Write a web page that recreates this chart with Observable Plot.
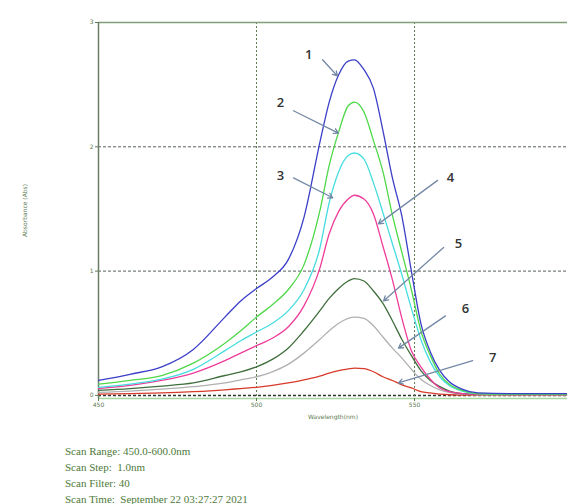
<!DOCTYPE html>
<html><head><meta charset="utf-8">
<script src="https://cdn.jsdelivr.net/npm/d3@7"></script>
<script src="https://cdn.jsdelivr.net/npm/@observablehq/plot@0.6"></script>
<style>
body{margin:0;background:#fff;width:567px;height:504px;overflow:hidden;position:relative;}
#info{position:absolute;left:65px;top:443px;font-family:"Liberation Serif","Times New Roman",serif;font-size:11px;line-height:16px;color:#4d7a3a;white-space:pre;}
</style></head><body>
<div id="chart"></div>
<div id="info"></div>
<script>
const wavelength = [450,460,470,480,490,495,500,505,510,515,520,523,526,529,531,534,537,540,543,546,549,552,555,558,561,565,570,580,600];
const s1 = [0.12,0.17,0.23,0.37,0.63,0.76,0.86,0.95,1.09,1.43,2.03,2.36,2.58,2.69,2.70,2.62,2.47,2.13,1.75,1.44,1.00,0.58,0.35,0.20,0.11,0.05,0.02,0.015,0.015];
const s2 = [0.09,0.12,0.16,0.26,0.42,0.52,0.63,0.73,0.85,1.05,1.48,1.85,2.12,2.33,2.36,2.28,2.05,1.80,1.45,1.15,0.85,0.52,0.32,0.17,0.09,0.04,0.015,0.01,0.01];
const s3 = [0.065,0.09,0.13,0.21,0.36,0.44,0.51,0.58,0.68,0.85,1.18,1.55,1.80,1.93,1.95,1.90,1.71,1.47,1.22,0.97,0.70,0.45,0.27,0.15,0.08,0.035,0.015,0.01,0.01];
const s4 = [0.055,0.08,0.12,0.18,0.28,0.34,0.40,0.46,0.55,0.72,1.02,1.30,1.48,1.58,1.61,1.58,1.46,1.20,0.93,0.62,0.36,0.23,0.13,0.06,0.03,0.015,0.01,0.01,0.01];
const s5 = [0.04,0.055,0.075,0.10,0.16,0.19,0.23,0.29,0.38,0.52,0.68,0.78,0.86,0.92,0.94,0.92,0.84,0.74,0.60,0.45,0.32,0.20,0.12,0.07,0.035,0.015,0.01,0.01,0.01];
const s6 = [0.025,0.035,0.05,0.07,0.10,0.125,0.15,0.19,0.25,0.34,0.45,0.52,0.58,0.62,0.63,0.62,0.56,0.47,0.38,0.30,0.21,0.13,0.08,0.045,0.025,0.01,0.005,0.005,0.005];
const s7 = [0.01,0.015,0.02,0.03,0.045,0.055,0.065,0.08,0.10,0.125,0.155,0.18,0.2,0.213,0.22,0.215,0.19,0.15,0.12,0.085,0.06,0.03,0.02,0.01,0.005,0.003,0.002,0.002,0.002];
const seriesNames = ["1","2","3","4","5","6","7"];
const seriesColors = ["#3b3fc8","#4fd84a","#46dce0","#ee3c9a","#3f6e3c","#b0b0b0","#d83a2a"];

const labelText = ["1","2","3","4","5","6","7"];
const labelX = [516.5,507.6,507.6,561.4,563.9,566.1,574.7];
const labelY = [2.74,2.35,1.77,1.75,1.22,0.70,0.30];
const arrowX1 = [520.9,511.7,511.7,557.3,559.2,559.8,568.4];
const arrowY1 = [2.70,2.29,1.75,1.73,1.19,0.64,0.28];
const arrowX2 = [525.6,525.9,524.1,538.6,540.2,544.9,544.9];
const arrowY2 = [2.57,2.11,1.59,1.38,0.76,0.38,0.10];

const yTicks = [0,1,2,3];
const xTicks = [450,500,550];
const infoLines = ["Scan Range: 450.0-600.0nm","Scan Step:  1.0nm","Scan Filter: 40","Scan Time:  September 22 03:27:27 2021"];

const allSeries = [s1,s2,s3,s4,s5,s6,s7];
const rows = [];
for (let k = allSeries.length - 1; k >= 0; k--) {
  allSeries[k].forEach((v,i) => rows.push({series: seriesNames[k], w: wavelength[i], a: v}));
}
const ann = labelText.map((t,i) => ({t, x: labelX[i], y: labelY[i], x1: arrowX1[i], y1: arrowY1[i], x2: arrowX2[i], y2: arrowY2[i]}));

const chart = Plot.plot({
  width: 567, height: 430,
  marginLeft: 98, marginRight: 0, marginTop: 22, marginBottom: 32,
  x: {domain: [450, 598.4]},
  y: {domain: [-0.025, 3]},
  color: {domain: seriesNames, range: seriesColors},
  style: {background: "#fff", fontFamily: "DejaVu Sans, sans-serif"},
  marks: [
    Plot.ruleY([1,2], {stroke: "#55605a", strokeDasharray: "3,2", strokeWidth: 1}),
    Plot.ruleY([0], {stroke: "#333", strokeDasharray: "3,2", strokeWidth: 1.5}),
    Plot.ruleX([500,550], {stroke: "#5b7a4e", strokeDasharray: "2,2", strokeWidth: 1}),
    Plot.ruleY([3], {stroke: "#7fa07a", strokeWidth: 1.5}),
    Plot.ruleY([-0.025], {stroke: "#a8d6a0", strokeWidth: 1.5}),
    Plot.ruleX([450], {stroke: "#6c7c66", strokeWidth: 1.5}),
    Plot.line(rows, {x: "w", y: "a", z: "series", stroke: "series", strokeWidth: 1.3, curve: "monotone-x", clip: true}),
    Plot.arrow(ann, {x1: "x1", y1: "y1", x2: "x2", y2: "y2", stroke: "#7489a6", strokeWidth: 1.3, headLength: 6}),
    Plot.text(ann, {x: "x", y: "y", text: "t", fontSize: 13, fill: "#333333", fontWeight: 600, fontFamily: "Open Sans, sans-serif"}),
    Plot.axisY(yTicks, {tickSize: 3, fontSize: 6, color: "#5c7a50", tickFormat: "d", label: "Absorbance (Abs)", labelAnchor: "center", labelOffset: 76, labelArrow: false, tickPadding: 2}),
    Plot.axisX(xTicks, {tickSize: 3, fontSize: 6, color: "#5c7a50", tickFormat: "d", label: "Wavelength(nm)", labelAnchor: "center", labelOffset: 20, labelArrow: false, tickPadding: 1})
  ]
});
document.getElementById("chart").appendChild(chart);
document.getElementById("info").textContent = infoLines.join("\n");
</script>
</body></html>
